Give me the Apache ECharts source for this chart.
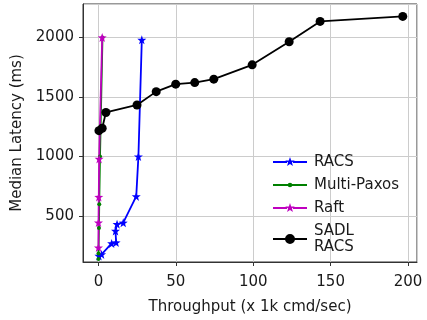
<!DOCTYPE html>
<html>
<head>
<meta charset="utf-8">
<script src="https://cdn.jsdelivr.net/npm/echarts@6/dist/echarts.min.js"></script>
<style>
  html, body { margin: 0; padding: 0; background: #fff; }
  #chart { width: 427px; height: 320px; }
</style>
</head>
<body>
<div id="chart"></div>
<script>
// [throughput (x 1k cmd/sec), median latency (ms)]
const racs = [[0.3, 165], [2, 178], [8.5, 270], [11.4, 278], [11, 375], [12, 432], [16, 444], [24.4, 665], [25.8, 1000], [28, 1980]];
const multiPaxos = [[0, 140], [0, 185], [0.3, 400], [0.5, 600], [1, 1000], [2.6, 2000]];
const raft = [[0, 235], [0, 445], [0.2, 660], [0.4, 980], [2.4, 2000]];
const sadlRacs = [[0.3, 1217], [2.4, 1237], [4.8, 1370], [24.9, 1433], [37.3, 1545], [49.9, 1608], [62.2, 1621], [74.5, 1650], [99.3, 1770], [123.2, 1964], [143.2, 2135], [196.6, 2177]];

const seriesNames = ['RACS', 'Multi-Paxos', 'Raft', 'SADL\nRACS'];
const xTicks = [0, 50, 100, 150, 200];
const yTicks = [500, 1000, 1500, 2000];

const font = 'DejaVu Sans';
const textColor = '#1a1a1a';
const star = 'path://M0,-10 L2.35,-3.24 L9.51,-3.09 L3.8,1.24 L5.88,8.09 L0,4 L-5.88,8.09 L-3.8,1.24 L-9.51,-3.09 L-2.35,-3.24 Z';

// 图例图标：34x14 的框，线段 + 中间的标记
const frame = 'M-17,-7 L-17,-7 M17,7 L17,7 ';
const legendLine = (gap) => `M-17,-0.9 L${-gap},-0.9 L${-gap},0.9 L-17,0.9 Z M${gap},-0.9 L17,-0.9 L17,0.9 L${gap},0.9 Z `;
const dotPath = (r) => `M${-r},0 A${r},${r} 0 1 1 ${r},0 A${r},${r} 0 1 1 ${-r},0 Z`;
const starPath = (r) => {
  let d = '';
  for (let i = 0; i < 10; i++) {
    const a = -Math.PI / 2 + i * Math.PI / 5;
    const rr = i % 2 ? r * 0.4 : r;
    d += (i ? 'L' : 'M') + (rr * Math.cos(a)).toFixed(2) + ',' + (rr * Math.sin(a)).toFixed(2) + ' ';
  }
  return d + 'Z';
};
const iconStar = 'path://' + frame + legendLine(3) + starPath(5);
const iconSmallDot = 'path://' + frame + legendLine(2) + dotPath(2.3);
const iconBigDot = 'path://' + frame + legendLine(4) + dotPath(5);

const chart = echarts.init(document.getElementById('chart'));

// 刻度只显示整 50 / 500
const showTick = (list) => (v) => (list.includes(v) ? String(v) : '');

const mkSeries = (name, data, color, symbol, size) => ({
  name,
  type: 'line',
  data,
  symbol,
  symbolSize: size,
  showSymbol: true,
  itemStyle: { color },
  lineStyle: { color, width: 1.8 },
  emphasis: { disabled: true },
  animation: false,
});

chart.setOption({
  animation: false,
  textStyle: { fontFamily: font },
  grid: {
    left: 83, right: 10, top: 4, bottom: 58,
    show: true, borderColor: '#333', borderWidth: 1,
  },
  legend: {
    orient: 'vertical',
    left: 268, top: 149,
    itemWidth: 34, itemHeight: 14, itemGap: 7,
    data: [
      { name: seriesNames[0], icon: iconStar },
      { name: seriesNames[1], icon: iconSmallDot },
      { name: seriesNames[2], icon: iconStar },
      { name: seriesNames[3], icon: iconBigDot },
    ],
    textStyle: { fontFamily: font, fontSize: 15, color: textColor, lineHeight: 16, padding: [0, 0, 0, 2] },
  },
  xAxis: {
    type: 'value',
    min: -10, max: 205.8,
    splitNumber: 4,
    name: 'Throughput (x 1k cmd/sec)',
    nameLocation: 'middle',
    nameGap: 38,
    nameTextStyle: { fontFamily: font, fontSize: 15, color: textColor },
    axisLine: { show: true, onZero: false, lineStyle: { color: '#333', width: 1 } },
    axisTick: { show: true, length: 4, lineStyle: { color: '#333' } },
    axisLabel: { fontFamily: font, fontSize: 15, color: textColor, margin: 13, showMinLabel: false, showMaxLabel: false, formatter: showTick(xTicks) },
    splitLine: { show: true, lineStyle: { color: '#cccccc', width: 1 } },
  },
  yAxis: {
    type: 'value',
    min: 114, max: 2281,
    splitNumber: 4,
    name: 'Median Latency (ms)',
    nameLocation: 'middle',
    nameGap: 46,
    nameTextStyle: { fontFamily: font, fontSize: 15, color: textColor },
    axisLine: { show: true, onZero: false, lineStyle: { color: '#333', width: 1 } },
    axisTick: { show: true, length: 4, lineStyle: { color: '#333' } },
    axisLabel: { fontFamily: font, fontSize: 15, color: textColor, margin: 9, showMinLabel: false, showMaxLabel: false, formatter: showTick(yTicks) },
    splitLine: { show: true, lineStyle: { color: '#cccccc', width: 1 } },
  },
  series: [
    mkSeries(seriesNames[0], racs, '#0000ff', star, 9),
    mkSeries(seriesNames[1], multiPaxos, '#008000', 'circle', 4),
    mkSeries(seriesNames[2], raft, '#bf00bf', star, 9),
    mkSeries(seriesNames[3], sadlRacs, '#000000', 'circle', 9),
  ],
});
</script>
</body>
</html>
